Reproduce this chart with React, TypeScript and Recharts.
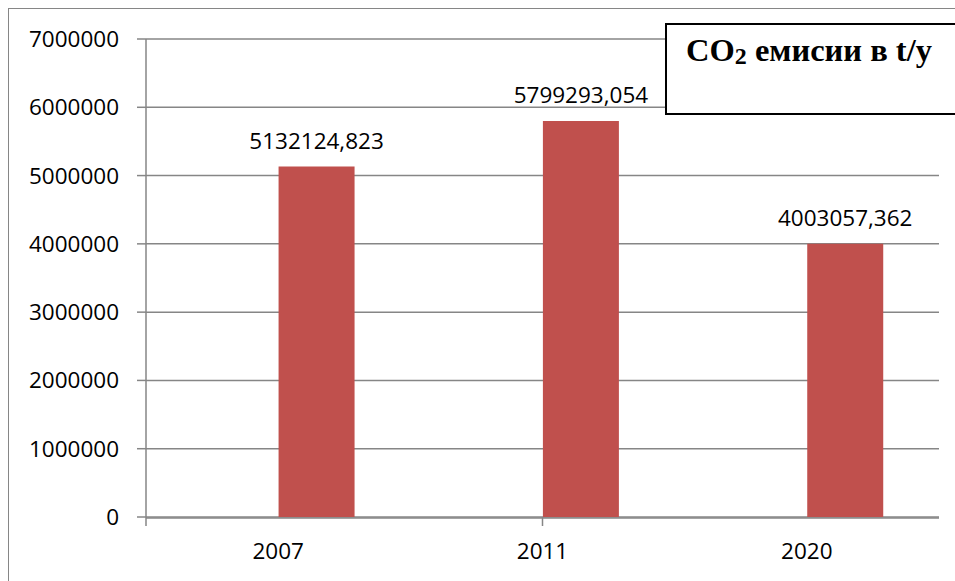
import React from 'react';
import { BarChart, Bar, XAxis, YAxis, CartesianGrid, LabelList } from 'recharts';

const years = ['2007', '2011', '2020'];
const emissions = [5132124.823, 5799293.054, 4003057.362];
const yTicks = [0, 1000000, 2000000, 3000000, 4000000, 5000000, 6000000, 7000000];
const edgeTicks = [0, 1, 2, 3];

const data = years.map((year, i) => ({ year, spacer: null, value: emissions[i] }));

const GRAY = '#868686';
const FONT = '"Open Sans", sans-serif';

const fmtLabel = (v: any) => (v == null ? '' : Number(v).toFixed(3).replace('.', ','));

export default function App() {
  return (
    <div
      style={{
        position: 'absolute',
        left: 0,
        top: 0,
        width: 955,
        height: 581,
        overflow: 'hidden',
        background: '#fff',
      }}
    >
      {/* outer chart frame, cut off by the crop */}
      <div
        style={{
          position: 'absolute',
          left: 8,
          top: 8,
          width: 1200,
          height: 1200,
          border: `1.5px solid ${GRAY}`,
        }}
      />
      <div style={{ position: 'absolute', left: 0, top: 0 }}>
        <BarChart
          width={955}
          height={581}
          data={data}
          margin={{ top: 39, right: 16, bottom: 0, left: 0 }}
          barCategoryGap="21.4%"
          barGap={0}
        >
          <CartesianGrid xAxisId="cat" vertical={false} stroke={GRAY} strokeWidth={1.5} />
          {/* tick marks between categories, Excel style */}
          <XAxis
            xAxisId={0}
            type="number"
            domain={[0, 3]}
            ticks={edgeTicks}
            height={1}
            axisLine={false}
            tick={() => <g />}
            tickSize={9}
            tickLine={{ stroke: GRAY, strokeWidth: 1.5 }}
          />
          <XAxis
            xAxisId="cat"
            dataKey="year"
            height={63}
            axisLine={{ stroke: GRAY, strokeWidth: 1.5 }}
            tickLine={false}
            tickSize={8}
            tickMargin={17}
            tick={{ fill: '#000', fontSize: 22.5, fontFamily: FONT }}
          />
          <YAxis
            width={146}
            domain={[0, 7000000]}
            ticks={yTicks}
            interval={0}
            axisLine={{ stroke: GRAY, strokeWidth: 1.5 }}
            tickLine={{ stroke: GRAY, strokeWidth: 1.5 }}
            tickSize={9}
            tickMargin={18}
            tick={{ fill: '#000', fontSize: 22.5, fontFamily: FONT }}
          />
          <Bar xAxisId="cat" dataKey="spacer" fill="#C0504D" isAnimationActive={false} />
          <Bar xAxisId="cat" dataKey="value" fill="#C0504D" isAnimationActive={false}>
            <LabelList
              dataKey="value"
              position="top"
              offset={18}
              formatter={fmtLabel}
              style={{ fill: '#000', fontSize: 22.5, fontFamily: FONT }}
            />
          </Bar>
        </BarChart>
      </div>
      <div
        style={{
          position: 'absolute',
          left: 665,
          top: 23,
          width: 300,
          height: 88,
          border: '2px solid #000',
          background: '#fff',
        }}
      />
      <div
        style={{
          position: 'absolute',
          left: 686,
          top: 34,
          fontFamily: '"Liberation Serif", "Times New Roman", serif',
          fontWeight: 'bold',
          fontSize: 32.5,
          lineHeight: 1,
          whiteSpace: 'nowrap',
          color: '#000',
        }}
      >
        CO<span style={{ fontSize: 24, verticalAlign: -3, lineHeight: 0 }}>2</span> емисии в t/у
      </div>
    </div>
  );
}
